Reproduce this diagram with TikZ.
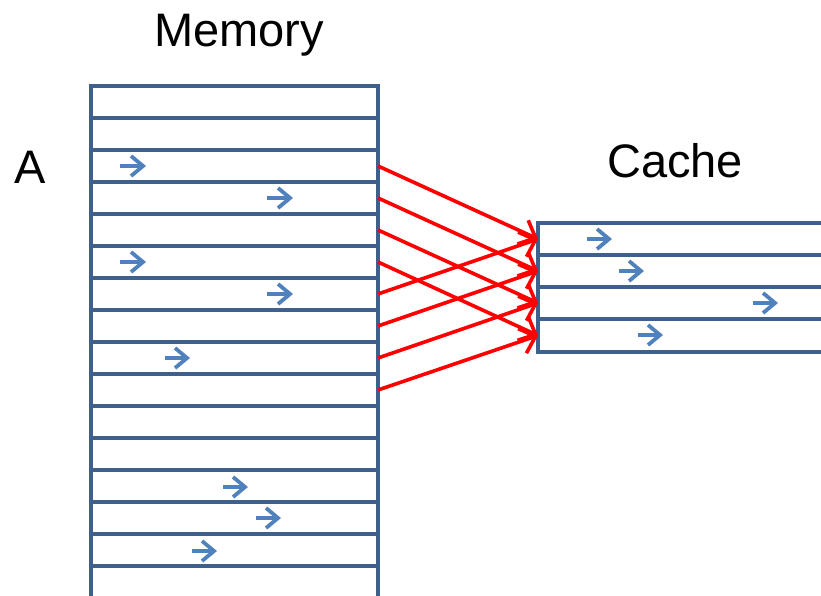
\documentclass[tikz,border=0pt]{standalone}
\usepackage{fontspec}
\setmainfont{Liberation Sans}
\usetikzlibrary{arrows.meta}
\definecolor{frameblue}{RGB}{62,96,140}
\definecolor{markblue}{RGB}{79,129,189}
\definecolor{linkred}{RGB}{255,0,0}
\tikzset{
  frame/.style={draw=frameblue, line width=3.8pt, line cap=rect},
  bluemark/.style={draw=markblue, line width=3.8pt, -{Straight Barb[length=12pt,width=20pt,line width=3.8pt]}},
  link/.style={draw=linkred, line width=3.6pt, -{Straight Barb[length=14pt,width=26pt,line width=3.6pt]}},
  title/.style={font=\fontsize{47}{56}\selectfont, inner sep=0pt, anchor=base}
}
\begin{document}
\begin{tikzpicture}[x=1pt,y=-1pt]
\useasboundingbox (0,0) rectangle (821,596);
\clip (0,0) rectangle (821,596);
% labels
\node[title] (memlabel) at (239,47) {Memory};
\node[title] (cachelabel) at (675,178) {Cache};
\node[title] (alabel) at (30,183) {A};
% memory block
\draw[frame] (91,600) -- (91,86) -- (378,86) -- (378,600);
\foreach \i in {1,...,15} {
  \draw[frame] (91,{86+32*\i}) -- (378,{86+32*\i});
}
\foreach \i in {0,...,15} {
  \coordinate (m\i) at (378,{86+32*\i+16});
}
% cache block
\draw[frame] (830,223) -- (538,223) -- (538,352) -- (830,352);
\foreach \y in {255,287,319} {
  \draw[frame] (538,\y) -- (830,\y);
}
\coordinate (c0) at (538,239);
\coordinate (c1) at (538,271);
\coordinate (c2) at (538,303);
\coordinate (c3) at (538,335.5);
% red links
\draw[link] (m2) -- (c0);
\draw[link] (m3) -- (c1);
\draw[link] (m4) -- (c2);
\draw[link] (m5) -- (c3);
\draw[link] (m6) -- (c0);
\draw[link] (m7) -- (c1);
\draw[link] (m8) -- (c2);
\draw[link] (m9) -- (c3);
% blue marks in memory
\draw[bluemark] (120,166) -- (146,166);
\draw[bluemark] (267,198) -- (293,198);
\draw[bluemark] (120,262) -- (146,262);
\draw[bluemark] (267,294) -- (293,294);
\draw[bluemark] (165,358) -- (190,358);
\draw[bluemark] (223,487) -- (248,487);
\draw[bluemark] (256,518) -- (281,518);
\draw[bluemark] (192,551) -- (217,551);
% blue marks in cache
\draw[bluemark] (587,239) -- (612,239);
\draw[bluemark] (619,271) -- (644,271);
\draw[bluemark] (753,303) -- (778,303);
\draw[bluemark] (638,335) -- (663,335);
\end{tikzpicture}
\end{document}
